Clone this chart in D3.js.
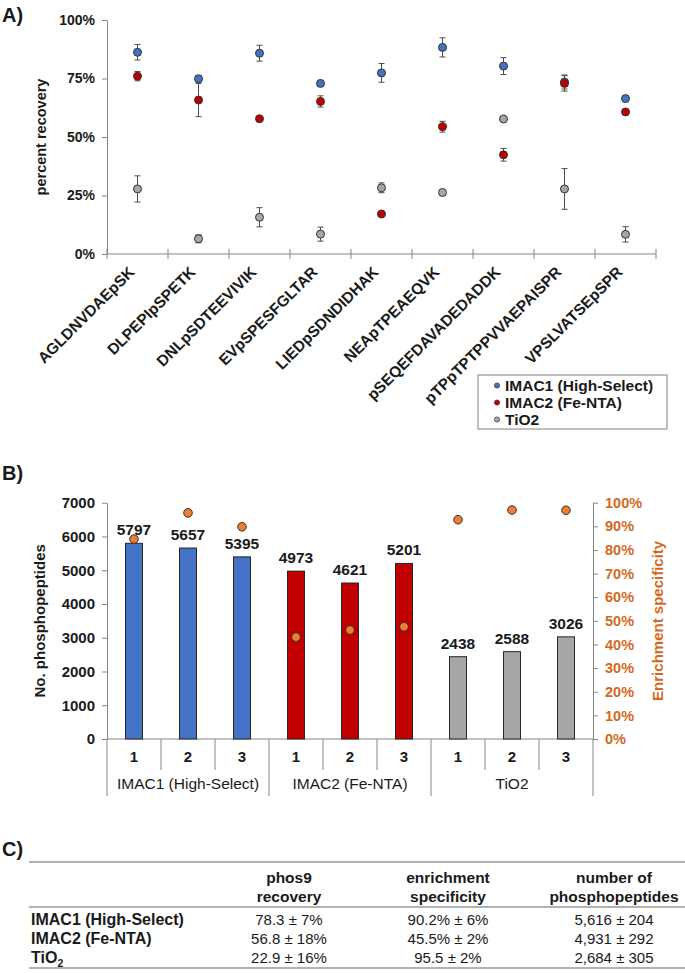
<!DOCTYPE html>
<html>
<head>
<meta charset="utf-8">
<script src="https://cdn.jsdelivr.net/npm/d3@7"></script>
<style>
  body { margin: 0; background: #fff; }
  svg { display: block; font-family: "Liberation Sans", Arial, sans-serif; }
  .axis path, .axis line { stroke: #868686; }
  .tick text { font-family: "Liberation Sans", Arial, sans-serif; font-weight: bold; font-size: 14px; fill: #1a1a1a; }
  .lab { font-weight: bold; fill: #1a1a1a; }
  .cell { font-family: "Liberation Sans", Arial, sans-serif; font-size: 15px; fill: #1a1a1a; }
</style>
</head>
<body>
<svg id="fig"></svg>
<script>
const w = 685, h = 973;

// ---- panel A data
const peptides = ['AGLDNVDAEpSK', 'DLPEPIpSPETK', 'DNLpSDTEEVIVIK', 'EVpSPESFGLTAR',
  'LIEDpSDNDIDHAK', 'NEApTPEAEQVK', 'pSEQEFDAVADEDADDK', 'pTPpTPTPPVVAEPAISPR', 'VPSLVATSEpSPR'];
const imac1Rec = [86.2, 74.9, 85.8, 72.9, 77.4, 88.3, 80.3, 73.5, 66.4];
const imac1Err = [3.3, 1.4, 3.4, 1.0, 4.0, 4.1, 3.6, 3.0, 0.8];
const imac2Rec = [76.0, 65.8, 57.8, 65.2, 17.1, 54.4, 42.4, 72.9, 60.7];
const imac2Err = [2.0, 7.1, 0.8, 2.4, 0.6, 2.3, 2.7, 3.3, 1.2];
const tio2Rec = [27.8, 6.5, 15.7, 8.5, 28.3, 26.3, 57.7, 27.8, 8.4];
const tio2Err = [5.6, 1.7, 4.1, 3.0, 2.1, 0.8, 0.8, 8.7, 3.3];
const recTicks = [0, 25, 50, 75, 100];

// ---- panel B data
const methods = ['IMAC1 (High-Select)', 'IMAC2 (Fe-NTA)', 'TiO2'];
const replicates = ['1', '2', '3'];
const phosphoCounts = [5797, 5657, 5395, 4973, 4621, 5201, 2438, 2588, 3026];
const specificity = [84.6, 95.7, 89.8, 43.1, 46.1, 47.5, 92.8, 96.9, 96.8];
const countTicks = [0, 1000, 2000, 3000, 4000, 5000, 6000, 7000];
const specTicks = [0, 10, 20, 30, 40, 50, 60, 70, 80, 90, 100];

// ---- panel C data
const tableHeaders = [['phos9', 'recovery'], ['enrichment', 'specificity'], ['number of', 'phosphopeptides']];
const recoveryCol = ['78.3 ± 7%', '56.8 ± 18%', '22.9 ± 16%'];
const specificityCol = ['90.2% ± 6%', '45.5% ± 2%', '95.5 ± 2%'];
const numberCol = ['5,616 ± 204', '4,931 ± 292', '2,684 ± 305'];

const colors = ['#4472C4', '#C00000', '#A6A6A6'];
const orange = '#ED7D31';
const orangeText = '#D2691E';

const svg = d3.select('#fig').attr('width', w).attr('height', h);

// panel letters
[['A)', 22], ['B)', 480], ['C)', 856]].forEach(([t, y]) => {
  svg.append('text').attr('x', 2).attr('y', y).attr('class', 'lab')
    .style('font-size', '20px').text(t);
});

// =========== PANEL A
const xA = d3.scaleBand().domain(peptides).range([107, 656]);
const yA = d3.scaleLinear().domain([0, 100]).range([254, 20]);

svg.append('g').attr('class', 'axis')
  .attr('transform', `translate(107,0)`)
  .call(d3.axisLeft(yA).tickValues(recTicks).tickFormat(d => d + '%').tickSize(5).tickSizeOuter(0))
  .call(g => g.selectAll('.tick text').attr('dx', '-4'));

const xAxisA = svg.append('g').attr('class', 'axis')
  .attr('transform', `translate(0,254)`);
xAxisA.append('line').attr('x1', 107).attr('x2', 656).attr('stroke', '#868686');
xAxisA.selectAll('line.tk')
  .data(peptides.concat(['end']))
  .join('line').attr('class', 'tk')
  .attr('x1', (d, i) => i < peptides.length ? xA(d) : xA.range()[1])
  .attr('x2', (d, i) => i < peptides.length ? xA(d) : xA.range()[1])
  .attr('y1', -5).attr('y2', 5).attr('stroke', '#868686');
xAxisA.selectAll('text')
  .data(peptides)
  .join('text')
  .attr('class', 'lab')
  .attr('text-anchor', 'end')
  .style('font-size', '15.5px')
  .attr('transform', d => `translate(${xA(d) + xA.bandwidth() / 2 - 2}, 19) rotate(-45)`)
  .text(d => d);

svg.append('text').attr('class', 'lab')
  .attr('transform', `translate(46, ${yA(50)}) rotate(-90)`)
  .attr('text-anchor', 'middle').style('font-size', '14.5px')
  .text('percent recovery');

const seriesA = [
  { vals: imac1Rec, errs: imac1Err, color: colors[0] },
  { vals: imac2Rec, errs: imac2Err, color: colors[1] },
  { vals: tio2Rec, errs: tio2Err, color: colors[2] }
];
seriesA.forEach(s => {
  const g = svg.append('g');
  const pts = peptides.map((p, i) => ({ p, v: s.vals[i], e: s.errs[i] }));
  const eb = g.selectAll('g.eb').data(pts).join('g').attr('class', 'eb')
    .attr('stroke', '#4d4d4d').attr('stroke-width', 1);
  const cx = d => xA(d.p) + xA.bandwidth() / 2;
  eb.append('line').attr('x1', cx).attr('x2', cx)
    .attr('y1', d => yA(d.v - d.e)).attr('y2', d => yA(d.v + d.e));
  eb.append('line').attr('x1', d => cx(d) - 3).attr('x2', d => cx(d) + 3)
    .attr('y1', d => yA(d.v - d.e)).attr('y2', d => yA(d.v - d.e));
  eb.append('line').attr('x1', d => cx(d) - 3).attr('x2', d => cx(d) + 3)
    .attr('y1', d => yA(d.v + d.e)).attr('y2', d => yA(d.v + d.e));
  g.selectAll('circle').data(pts).join('circle')
    .attr('cx', cx).attr('cy', d => yA(d.v)).attr('r', 4)
    .attr('fill', s.color).attr('stroke', '#333').attr('stroke-width', 1);
});

// legend A
const legA = svg.append('g').attr('transform', 'translate(478,375)');
legA.append('rect').attr('width', 189).attr('height', 54)
  .attr('fill', '#fff').attr('stroke', '#808080');
methods.forEach((m, i) => {
  legA.append('circle').attr('cx', 19).attr('cy', 10.5 + i * 17).attr('r', 2.6)
    .attr('fill', colors[i]).attr('stroke', '#333').attr('stroke-width', 0.7);
  legA.append('text').attr('class', 'lab').attr('x', 27).attr('y', 16 + i * 17)
    .style('font-size', '15.5px').text(m);
});

// =========== PANEL B
const bars = [];
methods.forEach((m, mi) => replicates.forEach((r, ri) => {
  const i = mi * 3 + ri;
  bars.push({ key: m + r, method: mi, rep: r, n: phosphoCounts[i], s: specificity[i] });
}));
const xB = d3.scaleBand().domain(bars.map(d => d.key)).range([107, 593]);
const yB = d3.scaleLinear().domain([0, 7000]).range([739, 502.7]);
const yB2 = d3.scaleLinear().domain([0, 100]).range([739, 502.7]);

svg.append('g').attr('class', 'axis')
  .attr('transform', 'translate(107,0)')
  .call(d3.axisLeft(yB).tickValues(countTicks).tickFormat(d3.format('d')).tickSize(5).tickSizeOuter(0))
  .call(g => g.selectAll('.tick text').attr('dx', '-4').style('font-size', '15px'));

svg.append('g').attr('class', 'axis')
  .attr('transform', 'translate(593,0)')
  .call(d3.axisRight(yB2).tickValues(specTicks).tickFormat(d => d + '%').tickSize(5).tickSizeOuter(0))
  .call(g => g.selectAll('.tick text').attr('dx', '4').style('font-size', '14.5px').style('fill', orangeText));

svg.append('text').attr('class', 'lab')
  .attr('transform', `translate(45, ${yB(3500)}) rotate(-90)`)
  .attr('text-anchor', 'middle').style('font-size', '15px')
  .text('No. phosphopeptides');
svg.append('text').attr('class', 'lab')
  .attr('transform', `translate(663, ${yB(3500)}) rotate(-90)`)
  .attr('text-anchor', 'middle').style('font-size', '15px').style('fill', orangeText)
  .text('Enrichment specificity');

// category axis with groups
const cat = svg.append('g').attr('stroke', '#868686');
cat.append('line').attr('x1', 107).attr('x2', 593).attr('y1', 739).attr('y2', 739);
xB.domain().concat(['end']).forEach((k, i) => {
  const x = i < bars.length ? xB(k) : xB.range()[1];
  const long = i % 3 === 0;
  cat.append('line').attr('x1', x).attr('x2', x)
    .attr('y1', 739).attr('y2', long ? 796 : 770);
});
svg.selectAll('text.rep').data(bars).join('text').attr('class', 'lab rep')
  .attr('x', d => xB(d.key) + xB.bandwidth() / 2).attr('y', 762)
  .attr('text-anchor', 'middle').style('font-size', '15px')
  .text(d => d.rep);
methods.forEach((m, mi) => {
  const x0 = xB(bars[mi * 3].key), x1 = xB(bars[mi * 3 + 2].key) + xB.bandwidth();
  svg.append('text').attr('x', (x0 + x1) / 2).attr('y', 789)
    .attr('text-anchor', 'middle').style('font-size', '15.5px').style('fill', '#1a1a1a')
    .text(m);
});

const bw = 17;
svg.selectAll('rect.bar').data(bars).join('rect').attr('class', 'bar')
  .attr('x', d => xB(d.key) + (xB.bandwidth() - bw) / 2)
  .attr('y', d => yB(d.n))
  .attr('width', bw).attr('height', d => yB(0) - yB(d.n))
  .attr('fill', d => colors[d.method]).attr('stroke', '#262626').attr('stroke-width', 1);
svg.selectAll('text.val').data(bars).join('text').attr('class', 'lab val')
  .attr('x', d => xB(d.key) + xB.bandwidth() / 2).attr('y', d => yB(d.n) - 8)
  .attr('text-anchor', 'middle').style('font-size', '15.5px')
  .text(d => d.n);
svg.selectAll('circle.spec').data(bars).join('circle').attr('class', 'spec')
  .attr('cx', d => xB(d.key) + xB.bandwidth() / 2).attr('cy', d => yB2(d.s)).attr('r', 4.3)
  .attr('fill', orange).attr('stroke', '#333').attr('stroke-width', 1);

// =========== PANEL C
const tbl = svg.append('g');
const colX = [289, 448, 614];
[862, 907, 968].forEach(y => {
  tbl.append('line').attr('x1', 29).attr('x2', 685).attr('y1', y).attr('y2', y)
    .attr('stroke', '#666').attr('stroke-width', 1.2);
});
tableHeaders.forEach((hd, i) => {
  hd.forEach((t, j) => {
    tbl.append('text').attr('class', 'cell').attr('x', colX[i]).attr('y', 883 + j * 19)
      .attr('text-anchor', 'middle').style('font-weight', 'bold').style('font-size', '15.5px').text(t);
  });
});
const cols = [recoveryCol, specificityCol, numberCol];
methods.forEach((m, r) => {
  const y = 925 + r * 19;
  const t = tbl.append('text').attr('class', 'cell').attr('x', 31).attr('y', y)
    .style('font-weight', 'bold').style('font-size', '16px');
  if (m === 'TiO2') {
    t.append('tspan').text('TiO');
    t.append('tspan').attr('dy', 4).style('font-size', '10.5px').text('2');
  } else {
    t.text(m);
  }
  cols.forEach((c, ci) => {
    tbl.append('text').attr('class', 'cell').attr('x', colX[ci]).attr('y', y)
      .attr('text-anchor', 'middle').text(c[r]);
  });
});
</script>
</body>
</html>
